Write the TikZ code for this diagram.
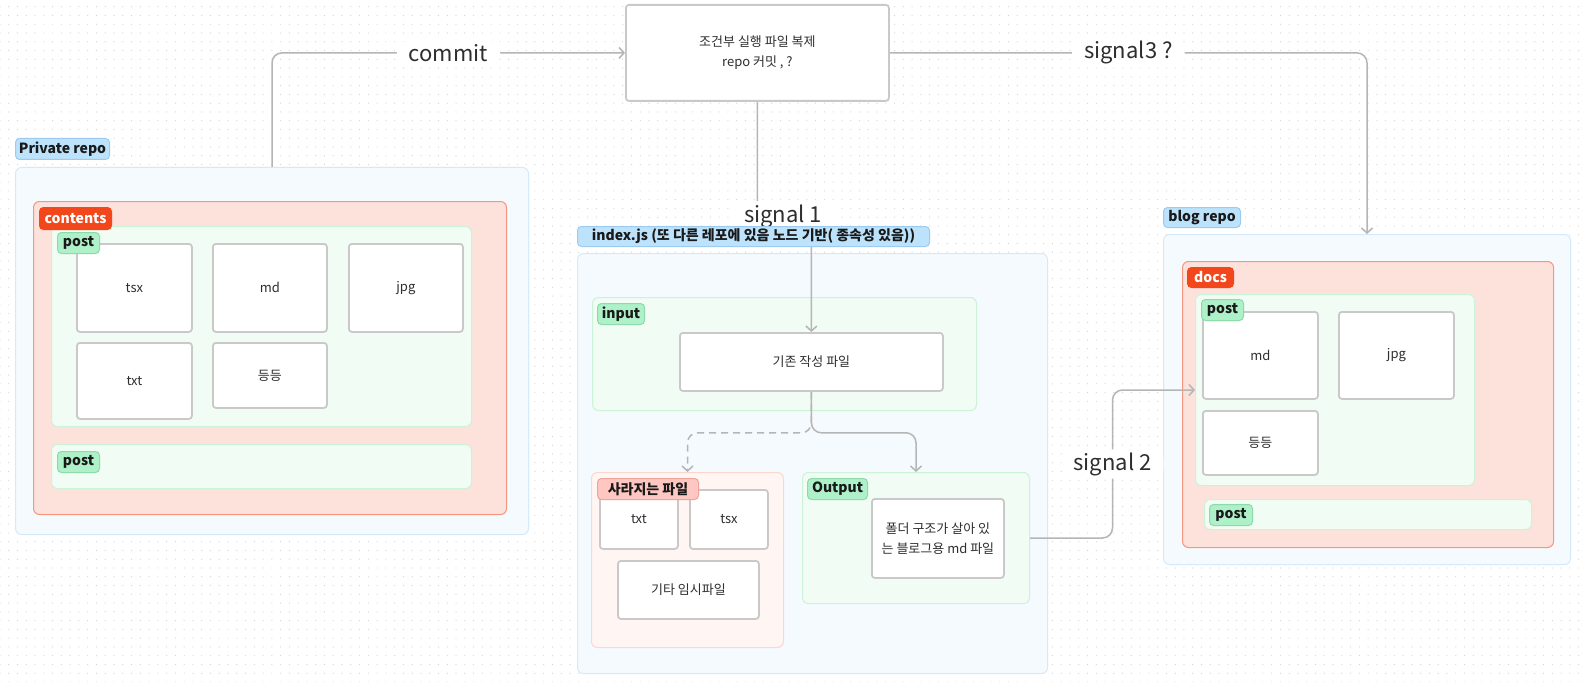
\documentclass[tikz,border=0pt]{standalone}
\usepackage{fontspec}
\setmainfont{Noto Sans CJK KR}
\usetikzlibrary{arrows.meta, calc, patterns.meta}
\definecolor{cline}{HTML}{B5B5B5}
\definecolor{cfile}{HTML}{C9C9C9}
\definecolor{ctext}{HTML}{2E2E2E}
\definecolor{cdot}{HTML}{D2D2D2}
\definecolor{crepo}{HTML}{F5FAFE}
\definecolor{crepoline}{HTML}{D4EAFA}
\definecolor{cbluetag}{HTML}{BDE3FC}
\definecolor{cbluetagline}{HTML}{9CCBEF}
\definecolor{cdocs}{HTML}{FDE1DB}
\definecolor{cdocsline}{HTML}{F5967F}
\definecolor{credtag}{HTML}{F2461B}
\definecolor{cpost}{HTML}{F1FCF4}
\definecolor{cpostline}{HTML}{CCF2D7}
\definecolor{cgreentag}{HTML}{AEF0C8}
\definecolor{cgreentagline}{HTML}{8DDBAB}
\definecolor{cgone}{HTML}{FFF5F3}
\definecolor{cgoneline}{HTML}{FCD6CF}
\definecolor{cpinktag}{HTML}{FFC7C1}
\definecolor{cpinktagline}{HTML}{EFA39A}
\tikzset{
  area/.style 2 args={fill=#1, draw=#2, line width=1pt, rounded corners=6pt, anchor=north west, inner sep=0pt},
  file/.style={fill=white, draw=cfile, line width=1.8pt, rounded corners=3pt, anchor=north west, inner sep=0pt, align=center, text=ctext, font=\fontsize{13}{20}\selectfont},
  tag/.style 2 args={fill=#1, draw=#2, line width=1pt, rounded corners=4pt, anchor=north west, inner sep=0pt, text=black!90, font=\fontsize{14}{16}\selectfont\bfseries},
  conn/.style={draw=cline, line width=1.5pt, rounded corners=10pt, -{Straight Barb[length=5pt, width=11pt]}},
  flowlabel/.style={fill=white, text=ctext, font=\fontsize{22}{24}\selectfont, inner xsep=12pt, inner ysep=3pt},
}

\begin{document}
\begin{tikzpicture}[x=1pt, y=-1pt]
  \useasboundingbox (0,0) rectangle (1585,682);
  % dotted canvas
  \fill[white] (0,0) rectangle (1585,682);
  \fill[pattern={Dots[distance=8.77pt, radius=0.6pt]}, pattern color=cdot] (0,0) rectangle (1585,682);

  % private repo
  \node[area={crepo}{crepoline}, minimum width=513pt, minimum height=367pt] (priv) at (15,167) {};
  \node[area={cdocs}{cdocsline}, minimum width=473pt, minimum height=313pt] (contents) at (33,201) {};
  \node[area={cpost}{cpostline}, minimum width=420pt, minimum height=200pt] (cpost) at (51,226) {};
  \node[area={cpost}{cpostline}, minimum width=420pt, minimum height=44pt] (cpostb) at (51,444) {};
  \node[file, minimum width=115pt, minimum height=88pt] (ctsx) at (76,243) {tsx};
  \node[file, minimum width=114pt, minimum height=88pt] (cmd) at (212,243) {md};
  \node[file, minimum width=114pt, minimum height=88pt] (cjpg) at (348,243) {jpg};
  \node[file, minimum width=115pt, minimum height=76pt] (ctxt) at (76,342) {txt};
  \node[file, minimum width=114pt, minimum height=65pt] (cetc) at (212,342) {등등};

  % conditional copy step
  \node[file, minimum width=263pt, minimum height=96pt] (cond) at (625,4) {조건부 실행 파일 복제\\repo 커밋 , ?};

  % index.js
  \node[area={crepo}{crepoline}, minimum width=470pt, minimum height=420pt] (idx) at (577,253) {};
  \node[area={cpost}{cpostline}, minimum width=384pt, minimum height=113pt] (input) at (592,297) {};
  \node[file, minimum width=263pt, minimum height=58pt] (gizon) at (679,332) {기존 작성 파일};
  \node[area={cgone}{cgoneline}, minimum width=192pt, minimum height=175pt] (gone) at (591,472) {};
  \node[file, minimum width=78pt, minimum height=59pt] (gtxt) at (599,489) {txt};
  \node[file, minimum width=78pt, minimum height=59pt] (gtsx) at (689,489) {tsx};
  \node[file, minimum width=141pt, minimum height=58pt] (gtmp) at (617,560) {기타 임시파일};
  \node[area={cpost}{cpostline}, minimum width=227pt, minimum height=131pt] (out) at (802,472) {};
  \node[file, minimum width=132pt, minimum height=79pt] (outmd) at (871,498) {폴더 구조가 살아 있\\는 블로그용 md 파일};

  % blog repo
  \node[area={crepo}{crepoline}, minimum width=407pt, minimum height=330pt] (blog) at (1163,234) {};
  \node[area={cdocs}{cdocsline}, minimum width=371pt, minimum height=286pt] (docs) at (1182,261) {};
  \node[area={cpost}{cpostline}, minimum width=279pt, minimum height=191pt] (bpost) at (1195,294) {};
  \node[area={cpost}{cpostline}, minimum width=327pt, minimum height=30pt] (bpostb) at (1204,499) {};
  \node[file, minimum width=115pt, minimum height=87pt] (bmd) at (1202,311) {md};
  \node[file, minimum width=115pt, minimum height=87pt] (bjpg) at (1338,311) {jpg};
  \node[file, minimum width=115pt, minimum height=64pt] (betc) at (1202,410) {등등};

  % signals
  \draw[conn] (priv.north) |- (cond.west) node[flowlabel, pos=0.75] (lcommit) {commit};
  \draw[conn] (cond.east) -| (blog.north) node[flowlabel, pos=0.25] (lsig3) {signal3 ?};
  \draw[conn] (cond.south) -- ++(0,136) -| (gizon.north);
  \node[flowlabel] (lsig1) at (783,216) {signal 1};
  \draw[conn] (gizon.south) -- ++(0,41) -| (out.north);
  \draw[conn, dash pattern=on 7pt off 5pt] (gizon.south) -- ++(0,41) -| (gone.north);
  \coordinate (s2mid) at ($(out.east)!0.5!(bpost.west)$);
  \draw[conn] (out.east) -| (s2mid) node[flowlabel] (lsig2) {signal 2} |- (bpost.west);

  % tags
  \node[tag={cbluetag}{cbluetagline}, minimum width=94pt, minimum height=21pt] (tpriv) at (15,138) {Private repo};
  \node[tag={credtag}{credtag}, text=white, minimum width=72pt, minimum height=22pt] (tcontents) at (39,207) {contents};
  \node[tag={cgreentag}{cgreentagline}, minimum width=42pt, minimum height=21pt] (tcpost) at (57,232) {post};
  \node[tag={cgreentag}{cgreentagline}, minimum width=42pt, minimum height=21pt] (tcpostb) at (57,451) {post};
  \node[tag={cbluetag}{cbluetagline}, minimum width=352pt, minimum height=20pt] (tidx) at (577,226) {index.js (또 다른 레포에 있음 노드 기반( 종속성 있음))};
  \node[tag={cgreentag}{cgreentagline}, minimum width=47pt, minimum height=21pt] (tinput) at (597,303) {input};
  \node[tag={cpinktag}{cpinktagline}, minimum width=101pt, minimum height=21pt] (tgone) at (597,478) {사라지는 파일};
  \node[tag={cgreentag}{cgreentagline}, minimum width=60pt, minimum height=21pt] (tout) at (807,478) {Output};
  \node[tag={cbluetag}{cbluetagline}, minimum width=77pt, minimum height=20pt] (tblog) at (1163,207) {blog repo};
  \node[tag={credtag}{credtag}, text=white, minimum width=46pt, minimum height=20pt] (tdocs) at (1187,267) {docs};
  \node[tag={cgreentag}{cgreentagline}, minimum width=42pt, minimum height=21pt] (tbpost) at (1201,299) {post};
  \node[tag={cgreentag}{cgreentagline}, minimum width=43pt, minimum height=21pt] (tbpostb) at (1209,504) {post};
\end{tikzpicture}
\end{document}
